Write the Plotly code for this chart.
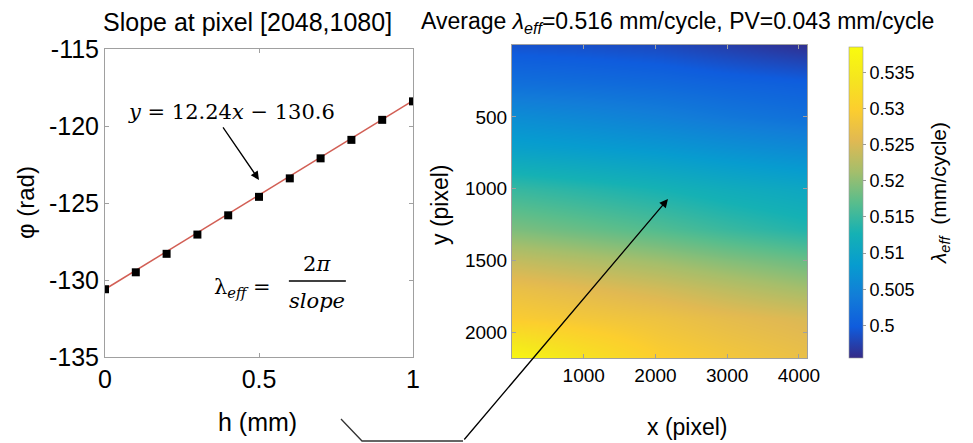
import plotly.graph_objects as go

W, H = 973, 443

# ---------------- data ----------------
h_mm = [0.0, 0.1, 0.2, 0.3, 0.4, 0.5, 0.6, 0.7, 0.8, 0.9, 1.0]
phi_rad = [-130.6, -129.5, -128.3, -127.05, -125.8, -124.6, -123.4, -122.1, -120.9, -119.6, -118.4]
fit_x = [0.0, 1.0]
fit_y = [-130.6, -118.36]

map_x = [0, 1000, 2056, 3000, 4112]
map_y = [0, 270, 500, 720, 1000, 1280, 1500, 1700, 1900, 2176]
lam_eff = [
    [0.4990, 0.4987, 0.4982, 0.4972, 0.4960],
    [0.5024, 0.5020, 0.5015, 0.5008, 0.5002],
    [0.5063, 0.5055, 0.5045, 0.5034, 0.5024],
    [0.5093, 0.5086, 0.5078, 0.5068, 0.5058],
    [0.5149, 0.5139, 0.5128, 0.5116, 0.5105],
    [0.5190, 0.5178, 0.5165, 0.5150, 0.5135],
    [0.5235, 0.5223, 0.5210, 0.5195, 0.5180],
    [0.5270, 0.5258, 0.5245, 0.5230, 0.5213],
    [0.5295, 0.5285, 0.5275, 0.5262, 0.5250],
    [0.5375, 0.5335, 0.5300, 0.5285, 0.5270],
]
cmin, cmax = 0.4955, 0.5385
cbar_ticks = [0.5, 0.505, 0.51, 0.515, 0.52, 0.525, 0.53, 0.535]
cbar_text = ["0.5", "0.505", "0.51", "0.515", "0.52", "0.525", "0.53", "0.535"]

# fraction bar of the λ_eff = 2π/slope note, in the left panel's units
frac_bar_x = [0.597, 0.782]
frac_bar_y = [-130.06, -130.06]

parula = [
    [0.0, "rgb(53,42,135)"], [0.1, "rgb(15,92,221)"], [0.2, "rgb(18,125,216)"],
    [0.3, "rgb(7,156,207)"], [0.4, "rgb(21,177,180)"], [0.5, "rgb(89,189,140)"],
    [0.6, "rgb(165,190,107)"], [0.7, "rgb(225,185,82)"], [0.8, "rgb(252,206,46)"],
    [0.9, "rgb(245,230,30)"], [1.0, "rgb(249,251,14)"],
]

FONT = "Liberation Sans, Arial, sans-serif"
SERIF = "DejaVu Serif, Liberation Serif, serif"

def px(x):
    return x / W

def py(y):
    return 1 - y / H

fig = go.Figure()

fig.add_trace(go.Scatter(x=fit_x, y=fit_y, mode="lines",
                         line=dict(color="rgb(210,95,85)", width=1.5),
                         xaxis="x", yaxis="y", showlegend=False))
fig.add_trace(go.Scatter(x=h_mm, y=phi_rad, mode="markers",
                         marker=dict(symbol="square", size=8, color="black"),
                         xaxis="x", yaxis="y", showlegend=False))
fig.add_trace(go.Scatter(x=frac_bar_x, y=frac_bar_y, mode="lines",
                         line=dict(color="black", width=1.5),
                         xaxis="x", yaxis="y", showlegend=False, hoverinfo="skip"))

fig.add_trace(go.Heatmap(x=map_x, y=map_y, z=lam_eff, zsmooth="best",
                         colorscale=parula, zmin=cmin, zmax=cmax,
                         xaxis="x2", yaxis="y2",
                         colorbar=dict(
                             x=px(849), xanchor="left", y=py(202.5), yanchor="middle",
                             xpad=0, ypad=0,
                             len=311, lenmode="pixels", thickness=14, thicknessmode="pixels",
                             outlinewidth=0.6, outlinecolor="#999",
                             tickvals=cbar_ticks, ticktext=cbar_text,
                             ticks="outside", ticklen=3, tickcolor="#999",
                             tickfont=dict(family=FONT, size=18, color="black"),
                         )))

axis_common = dict(showgrid=False, zeroline=False, showline=True, linecolor="#a0a0a0",
                   linewidth=1, mirror="ticks", ticks="inside", ticklen=4, tickcolor="#a0a0a0")

fig.update_layout(
    width=W, height=H, margin=dict(l=0, r=0, t=0, b=0, autoexpand=False),
    paper_bgcolor="white", plot_bgcolor="white",
    xaxis=dict(domain=[px(105), px(413)], range=[0, 1], tickvals=[0, 0.5, 1],
               ticktext=["0", "0.5", "1"], tickfont=dict(family=FONT, size=25, color="black"),
               anchor="y", **axis_common),
    yaxis=dict(domain=[py(357), py(49)], range=[-135, -115],
               tickvals=[-135, -130, -125, -120, -115],
               ticktext=["-135", "-130", "-125", "-120", "-115"],
               tickfont=dict(family=FONT, size=25, color="black"),
               anchor="x", **axis_common),
    xaxis2=dict(domain=[px(512), px(807)], range=[0.5, 4112.5], tickvals=[1000, 2000, 3000, 4000],
                tickfont=dict(family=FONT, size=19, color="black"), anchor="y2", **axis_common),
    yaxis2=dict(domain=[py(358), py(45)], range=[2176.5, 0.5], tickvals=[500, 1000, 1500, 2000],
                tickfont=dict(family=FONT, size=19, color="black"), anchor="x2", **axis_common),
)

ann = []
def text(x, y, s, size, angle=0, family=FONT, xanchor="center"):
    ann.append(dict(x=px(x), y=py(y), xref="paper", yref="paper", text=s, showarrow=False,
                    textangle=angle, xanchor=xanchor, yanchor="middle",
                    font=dict(family=family, size=size, color="black")))

text(247, 22, "Slope at pixel [2048,1080]", 25)
text(677, 22, "Average <i>λ</i><sub><i>eff</i></sub>=0.516 mm/cycle, PV=0.043 mm/cycle", 23)
text(257, 422, "h (mm)", 25)
text(25, 203, "φ (rad)", 24, angle=-90)
text(687, 427, "x (pixel)", 23)
text(440, 205, "y (pixel)", 23, angle=-90)
text(940, 193, "<i>λ</i><sub><i>eff</i></sub>  (mm/cycle)", 21, angle=-90)
text(231, 112, "<i>y</i> = 12.24<i>x</i> − 130.6", 21, family=SERIF)
text(242, 288, "λ<sub><i>eff</i></sub> =", 21, family=SERIF)
text(317, 264, "2<i>π</i>", 21, family=SERIF)
text(317, 301, "<i>slope</i>", 21, family=SERIF)

# arrow to fit line
ann.append(dict(x=0.5, y=-123.5, xref="x", yref="y", ax=-37, ay=-54, showarrow=True,
                arrowhead=2, arrowsize=1.3, arrowwidth=1.3, arrowcolor="black", text=""))
# arrow to map
ann.append(dict(x=px(668), y=py(199), xref="paper", yref="paper", ax=-205, ay=242, showarrow=True,
                arrowhead=2, arrowsize=1.3, arrowwidth=1.3, arrowcolor="black", text=""))
fig.update_layout(annotations=ann)

fig.add_shape(type="path", xref="paper", yref="paper",
              path=f"M {px(341)},{py(419)} L {px(362)},{py(441)} L {px(463)},{py(441)}",
              line=dict(color="#333", width=1.3))

fig.write_html("out.html")
